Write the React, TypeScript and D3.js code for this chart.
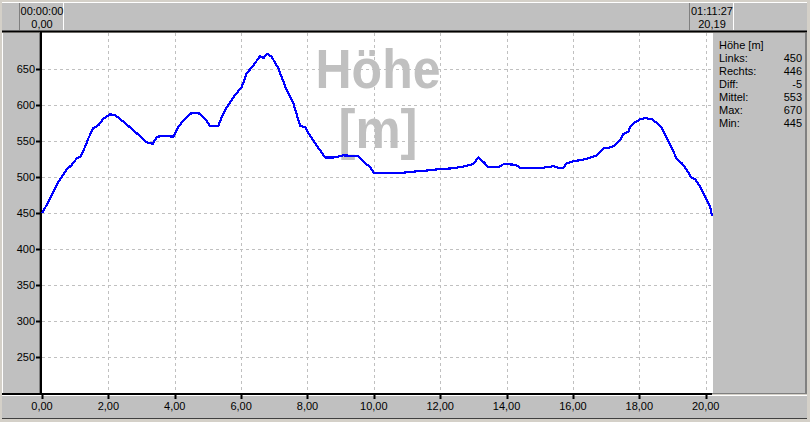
import React from 'react';
import * as d3 from 'd3';

// ---- data (distance in km, elevation in m) ----
const distance = [
  0, 0.14, 0.29, 0.49, 0.64, 0.74, 0.9, 1.05, 1.15, 1.3, 1.4, 1.55, 1.7, 1.85, 2.05, 2.2,
  2.45, 2.65, 2.85, 3.16, 3.34, 3.46, 3.71, 3.96, 4.11, 4.31, 4.51, 4.71, 4.91, 5.06, 5.31,
  5.46, 5.61, 5.82, 6.02, 6.17, 6.37, 6.57, 6.67, 6.79, 6.92, 7.12, 7.37, 7.57, 7.78, 7.93,
  8.08, 8.53, 8.78, 9.08, 9.53, 9.73, 9.89, 9.99, 10.89, 11.09, 11.59, 12.0, 12.35, 12.65,
  13.0, 13.15, 13.3, 13.45, 13.75, 13.92, 14.26, 14.41, 15.11, 15.41, 15.56, 15.71, 15.81,
  16.01, 16.31, 16.52, 16.72, 16.92, 17.12, 17.27, 17.42, 17.52, 17.67, 17.74, 17.87, 18.02,
  18.17, 18.38, 18.53, 18.68, 18.83, 18.98, 19.13, 19.28, 19.43, 19.55, 19.68, 19.83, 19.98,
  20.13, 20.19,
];
const elevation = [
  450, 461, 475, 493, 503, 510, 517, 526, 528, 542, 554, 568, 572, 581, 587, 586,
  577, 569, 561, 548, 546, 556, 557, 556, 570, 581, 589, 589, 581, 571, 571,
  588, 600, 614, 625, 644, 655, 668, 665, 671, 667, 651, 621, 603, 571, 569,
  557, 527, 527, 530, 529, 519, 514, 506, 506, 507, 509, 511, 512, 514,
  518, 527, 521, 514, 514, 518, 517, 513, 513, 515, 513, 513, 519,
  522, 524, 527, 530, 540, 541, 544, 551, 560, 563, 571, 576, 580,
  582, 580, 575, 568, 554, 540, 525, 519, 510, 500, 497, 487, 473,
  459, 446,
];
const xTicks = [0, 2, 4, 6, 8, 10, 12, 14, 16, 18, 20];
const yTicks = [250, 300, 350, 400, 450, 500, 550, 600, 650];
const statTitle = 'Höhe [m]';
const statLabels = ['Links:', 'Rechts:', 'Diff:', 'Mittel:', 'Max:', 'Min:'];
const statValues = ['450', '446', '-5', '553', '670', '445'];
const startTime = '00:00:00';
const startDist = '0,00';
const endTime = '01:11:27';
const endDist = '20,19';
const watermark = ['Höhe', '[m]'];

// ---- layout ----
const W = 810;
const H = 422;
const PL = 42, PR = 712, PT = 33, PB = 393;
const FONT = '"Liberation Sans", Arial, sans-serif';
const GRAY = '#c0c0c0';
const BG = '#d4d0c8';

const fmt = (v: number) => d3.format('.2f')(v).replace('.', ',');

export default function App() {
  const x = d3.scaleLinear().domain([0, 20.19]).range([PL, PR]);
  const y = d3.scaleLinear().domain([200, 700]).range([PB, PT]);
  const pts: [number, number][] = distance.map((d, i) => [d, elevation[i]]);
  const line = d3.line<[number, number]>().x(d => x(d[0])).y(d => y(d[1]));

  const cell = (cx: number, t1: string, t2: string) => (
    <g>
      <rect x={cx - 22} y={3} width={44} height={27} fill={GRAY} />
      <line x1={cx - 22.5} y1={3} x2={cx - 22.5} y2={30} stroke="#808080" />
      <line x1={cx + 21.5} y1={3} x2={cx + 21.5} y2={30} stroke="#ffffff" />
      <text x={cx} y={15} textAnchor="middle" fontSize={11} fontFamily={FONT} fill="#000">{t1}</text>
      <text x={cx} y={28} textAnchor="middle" fontSize={11} fontFamily={FONT} fill="#000">{t2}</text>
    </g>
  );

  return (
    <svg width={W} height={H} style={{ position: 'fixed', left: 0, top: 0 }}>
      <rect x={0} y={0} width={W} height={H} fill={BG} />
      {/* top bar */}
      <rect x={2} y={2} width={805} height={29} fill={GRAY} />
      <line x1={2} y1={2.5} x2={807} y2={2.5} stroke="#ffffff" />
      <line x1={2} y1={31.5} x2={807} y2={31.5} stroke="#000" strokeWidth={2} />
      <line x1={20.5} y1={3} x2={20.5} y2={30} stroke="#808080" />
      {cell(x(0), startTime, startDist)}
      {cell(x(20.19), endTime, endDist)}
      {/* left panel */}
      <rect x={2} y={33} width={38} height={360} fill={GRAY} />
      <line x1={2.5} y1={33} x2={2.5} y2={393} stroke="#ffffff" />
      <line x1={39.5} y1={33} x2={39.5} y2={393} stroke="#808080" />
      <line x1={41} y1={32} x2={41} y2={395} stroke="#000" strokeWidth={2} />
      {/* right panel */}
      <rect x={712} y={33} width={95} height={361} fill={GRAY} />
      <line x1={712.5} y1={33} x2={712.5} y2={393} stroke="#ffffff" />
      <line x1={806} y1={33} x2={806} y2={394} stroke="#808080" strokeWidth={2} />
      <line x1={712} y1={393.5} x2={807} y2={393.5} stroke="#808080" />
      {/* bottom panel */}
      <rect x={2} y={395} width={805} height={23} fill={GRAY} />
      <line x1={2} y1={395.5} x2={807} y2={395.5} stroke="#ffffff" />
      <line x1={2} y1={418.5} x2={807} y2={418.5} stroke="#404040" />
      <line x1={2} y1={394} x2={712} y2={394} stroke="#000" strokeWidth={2} />
      {/* plot area */}
      <rect x={PL} y={PT} width={PR - PL} height={PB - PT} fill="#ffffff" />
      {yTicks.map(v => (
        <line key={'gy' + v} x1={PL} x2={PR} y1={Math.round(y(v)) + 0.5} y2={Math.round(y(v)) + 0.5}
          stroke={GRAY} strokeDasharray="3,3" />
      ))}
      {xTicks.filter(v => v > 0).map(v => (
        <line key={'gx' + v} y1={PT} y2={PB} x1={Math.round(x(v)) + 0.5} x2={Math.round(x(v)) + 0.5}
          stroke={GRAY} strokeDasharray="3,3" />
      ))}
      {/* watermark */}
      <text x={378} y={88} textAnchor="middle" fontSize={56} fontWeight="bold" fontFamily={FONT}
        fill={GRAY} textLength={125} lengthAdjust="spacingAndGlyphs">{watermark[0]}</text>
      <text x={378} y={148} textAnchor="middle" fontSize={56} fontWeight="bold" fontFamily={FONT}
        fill={GRAY} textLength={79} lengthAdjust="spacingAndGlyphs">{watermark[1]}</text>
      {/* line */}
      <path d={line(pts) || ''} fill="none" stroke="#0000ff" strokeWidth={2.2} strokeLinejoin="round"
        shapeRendering="crispEdges" />
      {/* y ticks */}
      {yTicks.map(v => (
        <g key={'ty' + v}>
          <line x1={36} x2={40} y1={Math.round(y(v)) + 0.5} y2={Math.round(y(v)) + 0.5} stroke="#000" strokeWidth={2} />
          <text x={35} y={Math.round(y(v)) + 4} textAnchor="end" fontSize={11} fontFamily={FONT} fill="#000">{v}</text>
        </g>
      ))}
      {/* x ticks */}
      {xTicks.map(v => (
        <g key={'tx' + v}>
          <line x1={Math.round(x(v)) + 0.5} x2={Math.round(x(v)) + 0.5} y1={395} y2={399} stroke="#000" strokeWidth={2} />
          <text x={x(v)} y={410} textAnchor="middle" fontSize={11} fontFamily={FONT} fill="#000">{fmt(v)}</text>
        </g>
      ))}
      {/* stats */}
      <text x={719} y={49} fontSize={11} fontFamily={FONT} fill="#000">{statTitle}</text>
      {statLabels.map((l, i) => (
        <g key={l}>
          <text x={719} y={62 + i * 13} fontSize={11} fontFamily={FONT} fill="#000">{l}</text>
          <text x={802} y={62 + i * 13} textAnchor="end" fontSize={11} fontFamily={FONT} fill="#000">{statValues[i]}</text>
        </g>
      ))}
    </svg>
  );
}
